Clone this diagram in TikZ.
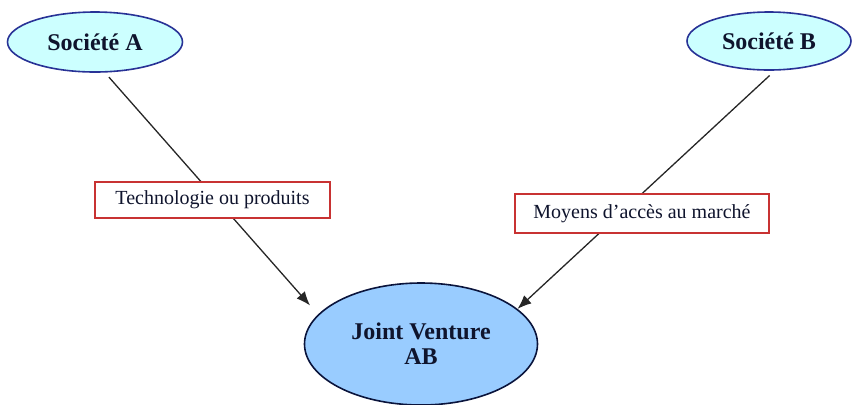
\documentclass[tikz,border=0pt]{standalone}
\usepackage{fontspec}
\setmainfont{Liberation Serif}
\usetikzlibrary{shapes.geometric,arrows.meta}

\definecolor{cielclair}{RGB}{204,255,255}
\definecolor{cieljv}{RGB}{153,204,255}
\definecolor{bordbleu}{RGB}{40,50,150}
\definecolor{bordjv}{RGB}{10,20,60}
\definecolor{bordrouge}{RGB}{200,50,50}
\definecolor{encre}{RGB}{15,20,45}

\tikzstyle{societe}= [ellipse,draw=bordbleu,line width=0.8pt,fill=cielclair,text=encre,font=\fontsize{12}{14}\selectfont\bfseries]
\tikzstyle{joint}= [ellipse,draw=bordjv,line width=0.8pt,fill=cieljv,text=encre,align=center,font=\fontsize{12}{12.5}\selectfont\bfseries]
\tikzstyle{apport}= [rectangle,draw=bordrouge,line width=0.8pt,fill=white,text=encre,font=\fontsize{10}{12}\selectfont]
\tikzstyle{lien}= [black!85,line width=0.65pt,-{Latex[length=7pt,width=5.5pt]}]

\begin{document}
\begin{tikzpicture}[x=0.5pt,y=-0.5pt]
		\useasboundingbox (0,0) rectangle (852,404);

		\node (a) at (95,42) [societe,minimum width=87.5pt,minimum height=30pt] {Société A};
		\node (b) at (769,41) [societe,minimum width=82pt,minimum height=29pt] {Société B};

		\node (jv) at (421,344) [joint,minimum width=116.5pt,minimum height=61pt] {Joint Venture\\AB};

		\path[lien,shorten <=3pt,shorten >=6pt] (a.-72) edge[] node {} (jv.164);
		\path[lien,shorten <=3.5pt,shorten >=0pt] (b.-79) edge[] node {} (jv.20);

		\node (t) at (212.5,200) [apport,minimum width=117.5pt,minimum height=18pt] {Technologie ou produits};
		\node (m) at (642,213.5) [apport,minimum width=127pt,minimum height=19.5pt] {Moyens d’accès au marché};

	\end{tikzpicture}
\end{document}
